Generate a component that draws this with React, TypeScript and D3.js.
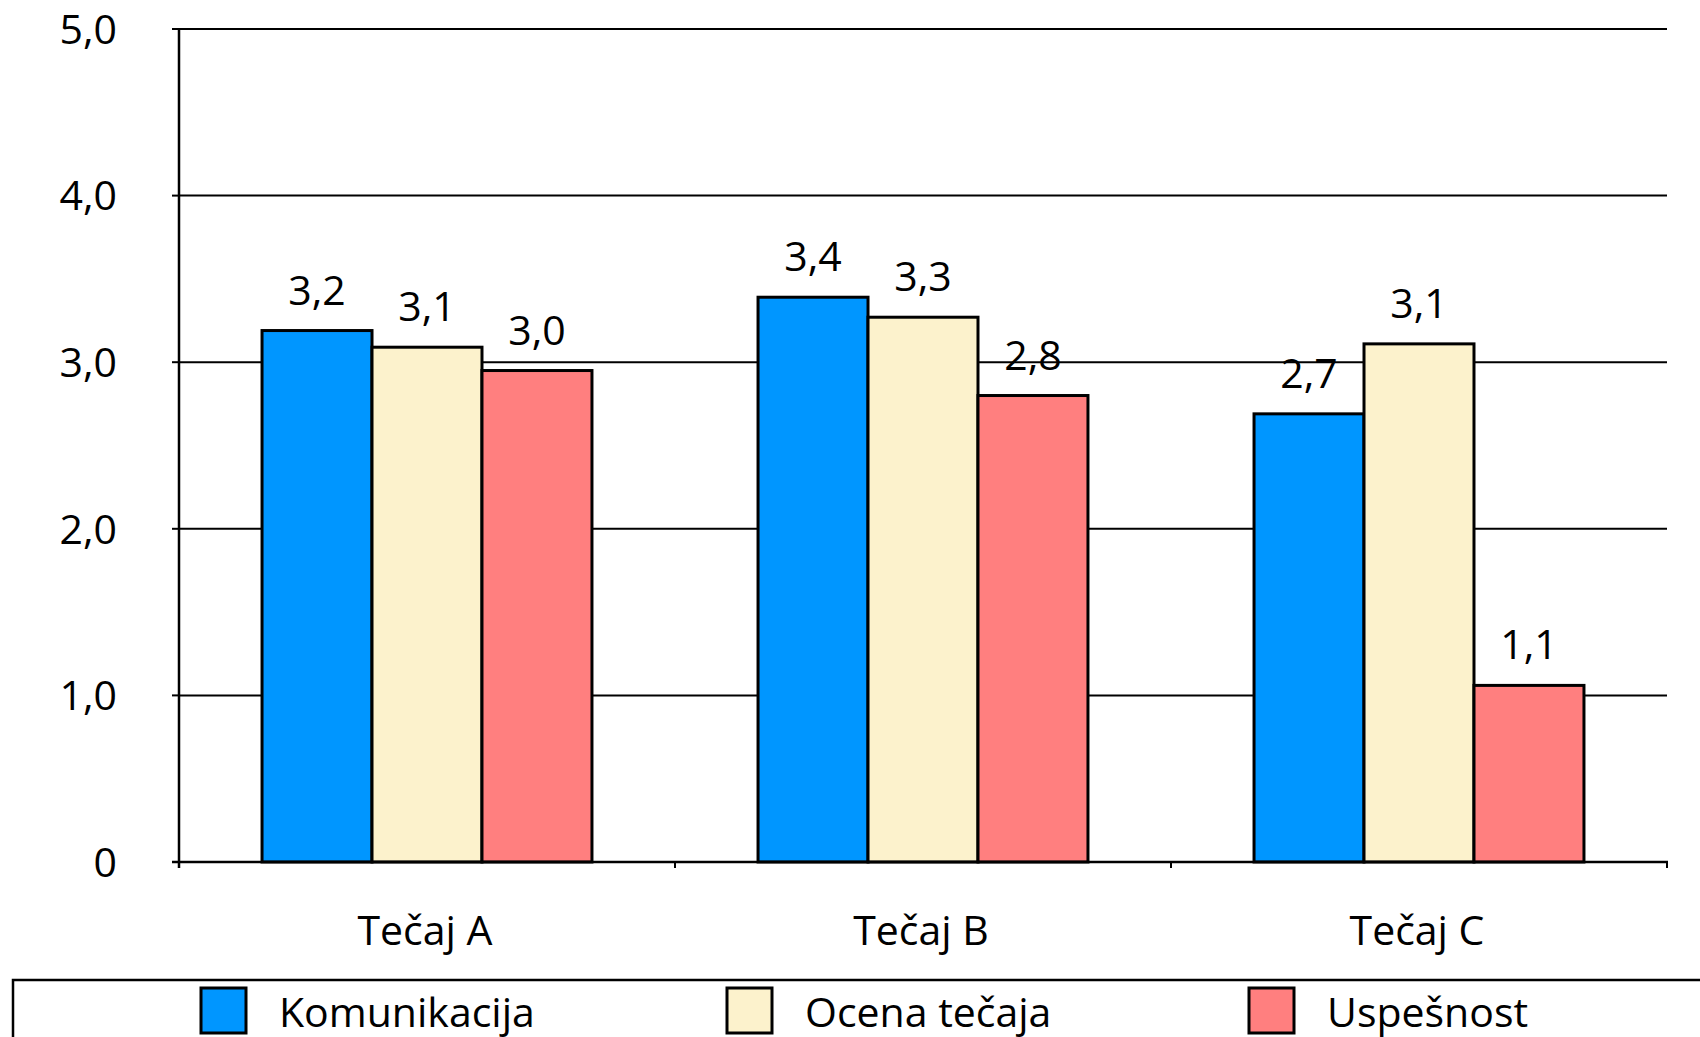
import React from "react";
import * as d3 from "d3";

const categories = ["Tečaj A", "Tečaj B", "Tečaj C"];
const seriesNames = ["Komunikacija", "Ocena tečaja", "Uspešnost"];
const komunikacija = [3.19, 3.39, 2.69];
const ocenaTecaja = [3.09, 3.27, 3.11];
const uspesnost = [2.95, 2.8, 1.06];
const valueLabels = [
  ["3,2", "3,4", "2,7"],
  ["3,1", "3,3", "3,1"],
  ["3,0", "2,8", "1,1"],
];
const yTicks = [0, 1, 2, 3, 4, 5];
const yTickLabels = ["0", "1,0", "2,0", "3,0", "4,0", "5,0"];
const colors = ["#0096FF", "#FCF2CC", "#FF7F7F"];

const W = 1700;
const H = 1037;
const FONT = "'Open Sans', 'Noto Sans', sans-serif";

export default function App() {
  const series = [komunikacija, ocenaTecaja, uspesnost];
  const x0 = d3.scaleBand<string>().domain(categories).range([179, 1667]).padding(0);
  const x1 = d3
    .scaleBand<string>()
    .domain(seriesNames)
    .range([0, x0.bandwidth()])
    .paddingInner(0)
    .paddingOuter(0.755);
  const y = d3.scaleLinear().domain([0, 5]).range([862, 29]);

  const legendX = [201, 727, 1249];

  return (
    <svg
      width={W}
      height={H}
      style={{ position: "absolute", left: 0, top: 0, background: "#fff" }}
      fontFamily={FONT}
    >
      <rect x={0} y={0} width={W} height={H} fill="#fff" />
      {/* gridlines */}
      {yTicks.slice(1).map((t) => (
        <line key={"g" + t} x1={179} x2={1667} y1={y(t)} y2={y(t)} stroke="#000" strokeWidth={2} />
      ))}
      {/* y ticks and labels */}
      {yTicks.map((t, i) => (
        <g key={"yt" + t}>
          <line x1={172} x2={179} y1={y(t)} y2={y(t)} stroke="#000" strokeWidth={2} />
          <text x={117} y={y(t)} dy="0.36em" textAnchor="end" fontSize={41} fill="#000">
            {yTickLabels[i]}
          </text>
        </g>
      ))}
      {/* bars */}
      {categories.map((c, ci) => (
        <g key={c} transform={`translate(${x0(c)},0)`}>
          {seriesNames.map((s, si) => {
            const v = series[si][ci];
            const bx = x1(s)!;
            return (
              <g key={s}>
                <rect
                  x={bx}
                  y={y(v)}
                  width={x1.bandwidth()}
                  height={y(0) - y(v)}
                  fill={colors[si]}
                  stroke="#000"
                  strokeWidth={3}
                />
                <text
                  x={bx + x1.bandwidth() / 2}
                  y={y(v) - 26}
                  textAnchor="middle"
                  fontSize={41}
                  fill="#000"
                >
                  {valueLabels[si][ci]}
                </text>
              </g>
            );
          })}
        </g>
      ))}
      {/* axes */}
      <line x1={179} x2={179} y1={y(5) - 1} y2={868} stroke="#000" strokeWidth={2.5} />
      <line x1={172} x2={1668} y1={y(0)} y2={y(0)} stroke="#000" strokeWidth={2.5} />
      {categories.map((c) => (
        <line
          key={"xt" + c}
          x1={x0(c)! + x0.bandwidth()}
          x2={x0(c)! + x0.bandwidth()}
          y1={y(0)}
          y2={868}
          stroke="#000"
          strokeWidth={2}
        />
      ))}
      {categories.map((c) => (
        <text
          key={"xl" + c}
          x={x0(c)! + x0.bandwidth() / 2 - 2}
          y={945}
          textAnchor="middle"
          fontSize={41}
          fill="#000"
        >
          {c}
        </text>
      ))}
      {/* legend */}
      <rect x={13} y={980} width={1750} height={120} fill="#fff" stroke="#000" strokeWidth={2.5} />
      {seriesNames.map((s, i) => (
        <g key={"lg" + s}>
          <rect x={legendX[i]} y={988} width={45} height={45} fill={colors[i]} stroke="#000" strokeWidth={3} />
          <text x={legendX[i] + 78} y={1027} fontSize={41} fill="#000">
            {s}
          </text>
        </g>
      ))}
    </svg>
  );
}
